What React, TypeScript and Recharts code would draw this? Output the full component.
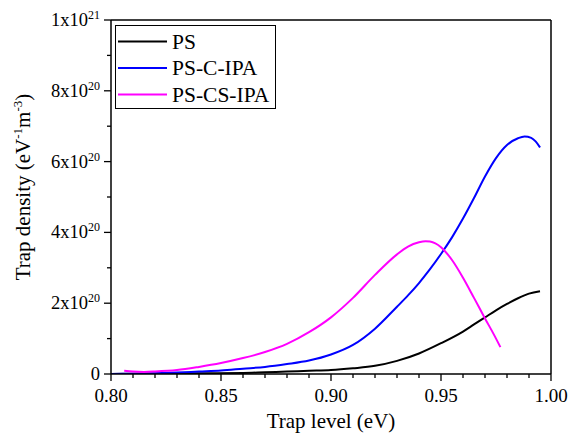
import {
  LineChart,
  Line,
  XAxis,
  YAxis,
  ReferenceLine,
  Legend,
  Label,
} from "recharts";

// trap density values are in units of 1e20 eV^-1 m^-3
const psLevel = [0.8, 0.82, 0.84, 0.86, 0.87, 0.88, 0.89, 0.9, 0.91, 0.92, 0.93, 0.94, 0.95, 0.96, 0.965, 0.97, 0.975, 0.98, 0.985, 0.99, 0.995];
const psDensity = [0.0, 0.01, 0.02, 0.03, 0.05, 0.07, 0.09, 0.11, 0.16, 0.23, 0.37, 0.58, 0.87, 1.2, 1.4, 1.6, 1.8, 1.98, 2.14, 2.27, 2.34];

const pscLevel = [0.8, 0.81, 0.82, 0.83, 0.84, 0.85, 0.86, 0.87, 0.88, 0.89, 0.9, 0.91, 0.92, 0.93, 0.935, 0.94, 0.945, 0.95, 0.955, 0.96, 0.965, 0.97, 0.975, 0.98, 0.985, 0.988, 0.991, 0.993, 0.995];
const pscDensity = [0.0, 0.01, 0.02, 0.04, 0.07, 0.1, 0.15, 0.2, 0.28, 0.38, 0.55, 0.82, 1.28, 1.9, 2.22, 2.57, 2.96, 3.39, 3.86, 4.39, 4.97, 5.58, 6.1, 6.47, 6.66, 6.71, 6.67, 6.57, 6.4];

const pscsLevel = [0.806, 0.81, 0.815, 0.82, 0.83, 0.84, 0.85, 0.86, 0.87, 0.88, 0.89, 0.9, 0.91, 0.92, 0.93, 0.935, 0.94, 0.943, 0.945, 0.95, 0.955, 0.96, 0.965, 0.97, 0.974, 0.977];
const pscsDensity = [0.09, 0.07, 0.06, 0.07, 0.11, 0.2, 0.31, 0.45, 0.62, 0.85, 1.18, 1.6, 2.15, 2.8, 3.38, 3.6, 3.72, 3.75, 3.74, 3.58, 3.22, 2.72, 2.15, 1.57, 1.12, 0.76];

const xTicks = [0.8, 0.81, 0.82, 0.83, 0.84, 0.85, 0.86, 0.87, 0.88, 0.89, 0.9, 0.91, 0.92, 0.93, 0.94, 0.95, 0.96, 0.97, 0.98, 0.99, 1.0];
const yTicks = [0, 1, 2, 3, 4, 5, 6, 7, 8, 9, 10];

const seriesNames = ["PS", "PS-C-IPA", "PS-CS-IPA"];
const seriesColors = ["#000000", "#0000ff", "#ff00ff"];

const FONT = "Liberation Serif, Times New Roman, serif";

const zip = (xs: number[], ys: number[]) => xs.map((x, i) => ({ x, y: ys[i] }));

const series = [
  zip(psLevel, psDensity),
  zip(pscLevel, pscDensity),
  zip(pscsLevel, pscsDensity),
];

const XTick = (props: any) => {
  const { x, y, payload } = props;
  const v = Math.round(payload.value * 100);
  const major = v % 5 === 0;
  return (
    <g>
      <line x1={x} x2={x} y1={y} y2={y + (major ? 7 : 4)} stroke="#000" strokeWidth={1.3} />
      {major && (
        <text x={x} y={y + 28} textAnchor="middle" fontSize={19} fontFamily={FONT} fill="#000">
          {payload.value.toFixed(2)}
        </text>
      )}
    </g>
  );
};

const YTick = (props: any) => {
  const { x, y, payload } = props;
  const v = payload.value as number;
  const major = v % 2 === 0;
  let label: any = null;
  if (major) {
    if (v === 0) label = "0";
    else if (v === 10)
      label = (
        <>
          1x10<tspan dy={-7} fontSize={12}>21</tspan>
        </>
      );
    else
      label = (
        <>
          {v}x10<tspan dy={-7} fontSize={12}>20</tspan>
        </>
      );
  }
  return (
    <g>
      <line x1={x} x2={x - (major ? 7 : 4)} y1={y} y2={y} stroke="#000" strokeWidth={1.3} />
      {label && (
        <text x={x - 11} y={y + 6} textAnchor="end" fontSize={18.5} fontFamily={FONT} fill="#000">
          {label}
        </text>
      )}
    </g>
  );
};

const LegendBox = () => (
  <svg width={161} height={84} style={{ display: "block" }}>
    <rect x={0.5} y={0.5} width={160} height={83} fill="#fff" stroke="#000" strokeWidth={1} />
    {seriesNames.map((name, i) => {
      const cy = 16.5 + i * 26.5;
      return (
        <g key={name}>
          <line x1={3} x2={52} y1={cy} y2={cy} stroke={seriesColors[i]} strokeWidth={2} />
          <text x={57} y={cy + 7} fontSize={21.5} fontFamily={FONT} fill="#000">
            {name}
          </text>
        </g>
      );
    })}
  </svg>
);

export default function App() {
  return (
    <div style={{ position: "absolute", left: 0, top: 0, background: "#fff" }}>
      <LineChart width={569} height={437} margin={{ top: 20, right: 18, bottom: 0, left: 0 }}>
        <XAxis
          dataKey="x"
          type="number"
          domain={[0.8, 1.0]}
          ticks={xTicks}
          interval={0}
          height={63}
          tickSize={0}
          tickMargin={0}
          tickLine={false}
          axisLine={{ stroke: "#000", strokeWidth: 1.5 }}
          tick={<XTick />}
          allowDataOverflow
        >
          <Label
            content={() => (
              <text x={331} y={428} textAnchor="middle" fontSize={21} fontFamily={FONT} fill="#000">
                Trap level (eV)
              </text>
            )}
          />
        </XAxis>
        <YAxis
          type="number"
          domain={[0, 10]}
          ticks={yTicks}
          interval={0}
          width={111}
          tickSize={0}
          tickMargin={0}
          tickLine={false}
          axisLine={{ stroke: "#000", strokeWidth: 1.5 }}
          tick={<YTick />}
          allowDataOverflow
        >
          <Label
            content={() => (
              <text
                transform="translate(30,187) rotate(-90)"
                textAnchor="middle"
                fontSize={21}
                fontFamily={FONT}
                fill="#000"
              >
                Trap density (eV<tspan dy={-8} fontSize={13}>-1</tspan>
                <tspan dy={8}>m</tspan>
                <tspan dy={-8} fontSize={13}>-3</tspan>
                <tspan dy={8}>)</tspan>
              </text>
            )}
          />
        </YAxis>
        <ReferenceLine y={10} stroke="#000" strokeWidth={1.5} />
        <ReferenceLine x={1.0} stroke="#000" strokeWidth={1.5} />
        {series.map((data, i) => (
          <Line
            key={seriesNames[i]}
            data={data}
            dataKey="y"
            name={seriesNames[i]}
            type="monotone"
            stroke={seriesColors[i]}
            strokeWidth={2}
            dot={false}
            activeDot={false}
            isAnimationActive={false}
          />
        ))}
        <Legend
          layout="vertical"
          align="center"
          verticalAlign="middle"
          content={<LegendBox />}
          wrapperStyle={{ left: 115, top: 25, width: 161, height: 84 }}
        />
      </LineChart>
    </div>
  );
}
